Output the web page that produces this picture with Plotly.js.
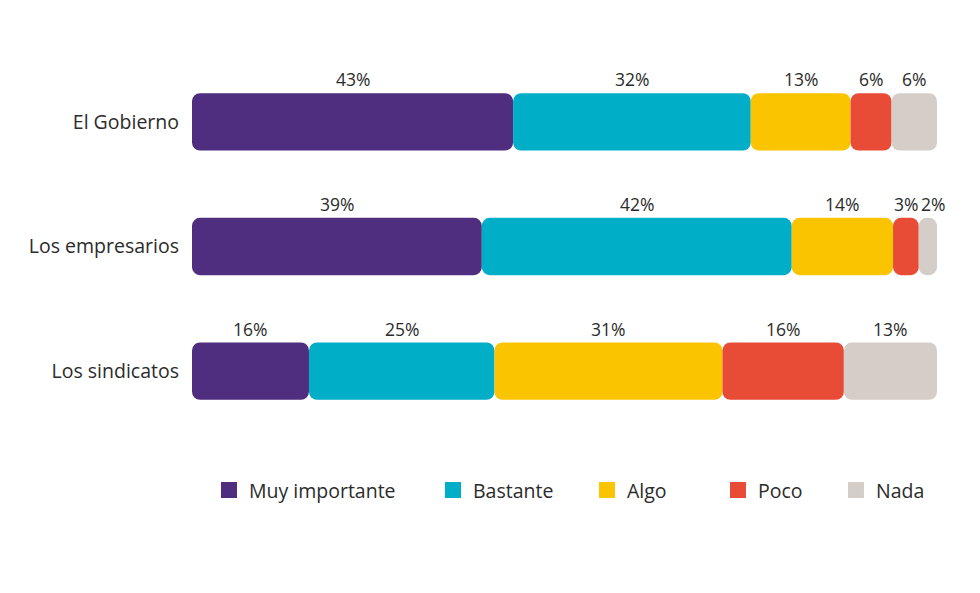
<!DOCTYPE html>
<html>
<head>
<meta charset="utf-8">
<script src="https://cdn.plot.ly/plotly-3.0.1.min.js"></script>
<style>
  html, body { margin: 0; padding: 0; background: #ffffff; }
  #chart { width: 980px; height: 593px; }
</style>
</head>
<body>
<div id="chart"></div>
<script>
// rows, top to bottom
const categories = ['El Gobierno', 'Los empresarios', 'Los sindicatos'];
const rowPos = [2, 1, 0];

const seriesNames = ['Muy importante', 'Bastante', 'Algo', 'Poco', 'Nada'];
const colors = ['#4F2D7F', '#00AEC7', '#FBC400', '#E84C37', '#D5CEC8'];

// share (%) per row
const muyImportante = [43.1, 38.9, 15.7];
const bastante = [31.9, 41.6, 24.9];
const algo = [13.4, 13.6, 30.6];
const poco = [5.5, 3.45, 16.3];
const nada = [6.1, 2.45, 12.5];

const allSeries = [muyImportante, bastante, algo, poco, nada];

const FONT = '"Open Sans", sans-serif';
const barWidth = 0.46;
const labelLift = 0.34;
// one small legend per series, so the entries can be spaced like the original
const legendX = [0.0228, 0.3235, 0.5302, 0.7060, 0.8644];

var traces = [];
var legendTraces = [];
var annotations = [];
var legends = {};
var running = categories.map(() => 0);

allSeries.forEach((vals, i) => {
	var starts = running.slice();
	var legendId = i === 0 ? 'legend' : 'legend' + (i + 1);

	traces.push({
		type: 'bar',
		orientation: 'h',
		name: seriesNames[i],
		y: rowPos,
		x: vals,
		base: starts,
		width: barWidth,
		marker: { color: colors[i], line: { width: 0 }, cornerradius: 8 },
		showlegend: false,
		hoverinfo: 'skip'
	});

	// legend entry only (square swatch)
	legendTraces.push({
		type: 'scatter',
		mode: 'markers',
		name: seriesNames[i],
		x: [null],
		y: [null],
		legend: legendId,
		marker: { symbol: 'square', size: 20, color: colors[i] },
		hoverinfo: 'skip'
	});

	legends[legendId] = {
		orientation: 'h',
		x: legendX[i],
		xanchor: 'left',
		y: -0.111,
		yanchor: 'middle',
		bgcolor: 'rgba(0,0,0,0)',
		font: { family: FONT, size: 19.5, color: '#2b2b2b' },
		itemsizing: 'trace'
	};

	vals.forEach((v, r) => {
		annotations.push({
			x: starts[r] + v / 2,
			y: rowPos[r] + labelLift,
			xref: 'x',
			yref: 'y',
			text: Math.round(v) + '%',
			showarrow: false,
			// tiny segments: nudge the label so neighbours don't collide
			xshift: v < 3 ? 5 : 0,
			font: { family: FONT, size: 17.5, color: '#2b2b2b' }
		});
	});

	vals.forEach((v, r) => { running[r] += v; });
});

var layout = Object.assign({
	width: 980,
	height: 593,
	margin: { l: 192, r: 43, t: 47, b: 147 },
	paper_bgcolor: '#ffffff',
	plot_bgcolor: '#ffffff',
	barmode: 'overlay',
	font: { family: FONT, size: 18, color: '#2b2b2b' },
	xaxis: {
		range: [0, 100],
		visible: false,
		fixedrange: true
	},
	yaxis: {
		range: [-0.6, 2.6],
		tickvals: rowPos,
		ticktext: categories,
		showgrid: false,
		zeroline: false,
		showline: false,
		ticks: '',
		ticklabelstandoff: 12,
		tickfont: { family: FONT, size: 19.5, color: '#2b2b2b' },
		fixedrange: true
	},
	annotations: annotations,
	showlegend: true
}, legends);

Plotly.newPlot('chart', traces.concat(legendTraces), layout, { displayModeBar: false, staticPlot: true });
</script>
</body>
</html>
